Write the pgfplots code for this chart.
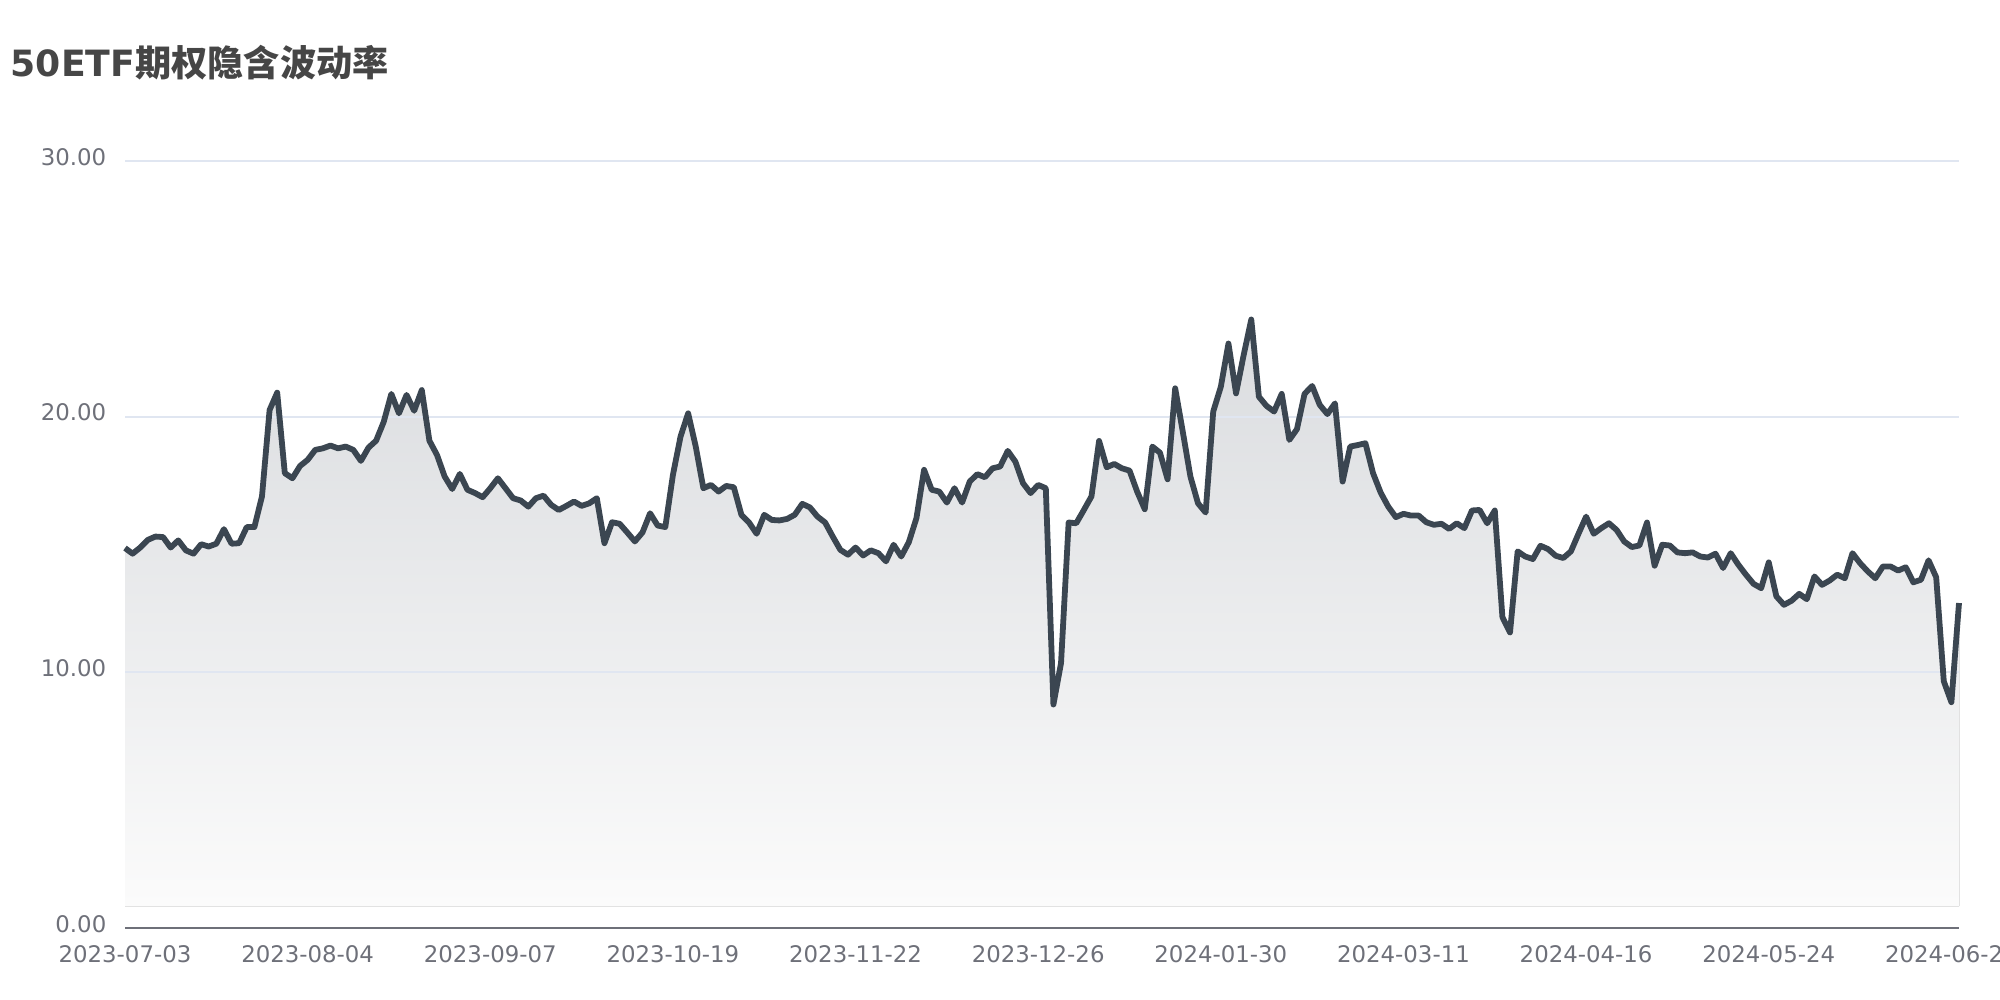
\documentclass[border=0pt]{standalone}
\usepackage{pgfplots}
\pgfplotsset{compat=1.18}
\usepackage{pgfplotstable}
\usepgfplotslibrary{fillbetween}
\usepackage{fontspec}
\setmainfont{DejaVu Sans}
\newfontfamily\cjk{Noto Sans CJK SC}
\definecolor{linecol}{HTML}{3B4651}
\definecolor{tickgray}{HTML}{6E7079}
\definecolor{gridcol}{HTML}{E0E6F1}
\definecolor{titlecol}{HTML}{464646}
\definecolor{filltop}{HTML}{DADCDF}
\definecolor{fillbot}{HTML}{FBFBFB}

\pgfplotstableread{
i v
0 14.86
1 14.64
2 14.88
3 15.18
4 15.31
5 15.29
6 14.88
7 15.16
8 14.77
9 14.64
10 15.01
11 14.92
12 15.03
13 15.60
14 15.03
15 15.05
16 15.68
17 15.68
18 16.88
19 20.26
20 20.94
21 17.79
22 17.59
23 18.07
24 18.31
25 18.70
26 18.76
27 18.87
28 18.76
29 18.83
30 18.70
31 18.27
32 18.79
33 19.06
34 19.80
35 20.89
36 20.13
37 20.85
38 20.23
39 21.04
40 19.06
41 18.50
42 17.66
43 17.17
44 17.76
45 17.14
46 17.01
47 16.85
48 17.20
49 17.59
50 17.20
51 16.81
52 16.72
53 16.48
54 16.81
55 16.91
56 16.55
57 16.35
58 16.51
59 16.68
60 16.51
61 16.61
62 16.81
63 15.05
64 15.87
65 15.81
66 15.47
67 15.12
68 15.47
69 16.22
70 15.74
71 15.68
72 17.72
73 19.22
74 20.13
75 18.83
76 17.20
77 17.33
78 17.07
79 17.29
80 17.24
81 16.16
82 15.86
83 15.42
84 16.16
85 15.96
86 15.94
87 16.00
88 16.16
89 16.59
90 16.45
91 16.09
92 15.86
93 15.31
94 14.79
95 14.60
96 14.88
97 14.57
98 14.77
99 14.66
100 14.34
101 14.99
102 14.53
103 15.09
104 16.03
105 17.92
106 17.14
107 17.07
108 16.64
109 17.20
110 16.64
111 17.46
112 17.75
113 17.63
114 17.98
115 18.05
116 18.66
117 18.24
118 17.40
119 17.01
120 17.33
121 17.20
122 8.74
123 10.36
124 15.86
125 15.83
126 16.35
127 16.88
128 19.05
129 18.02
130 18.15
131 17.98
132 17.89
133 17.07
134 16.38
135 18.83
136 18.59
137 17.55
138 21.11
139 19.41
140 17.66
141 16.61
142 16.25
143 20.20
144 21.17
145 22.86
146 20.91
147 22.41
148 23.80
149 20.78
150 20.42
151 20.20
152 20.89
153 19.09
154 19.51
155 20.89
156 21.20
157 20.46
158 20.10
159 20.52
160 17.46
161 18.83
162 18.89
163 18.96
164 17.79
165 17.03
166 16.48
167 16.07
168 16.20
169 16.13
170 16.13
171 15.87
172 15.77
173 15.81
174 15.61
175 15.83
176 15.64
177 16.33
178 16.35
179 15.83
180 16.33
181 12.16
182 11.56
183 14.73
184 14.53
185 14.43
186 14.95
187 14.82
188 14.56
189 14.47
190 14.73
191 15.42
192 16.09
193 15.42
194 15.64
195 15.83
196 15.57
197 15.12
198 14.90
199 14.96
200 15.86
201 14.17
202 14.99
203 14.96
204 14.69
205 14.66
206 14.69
207 14.53
208 14.49
209 14.64
210 14.08
211 14.66
212 14.21
213 13.82
214 13.46
215 13.29
216 14.30
217 12.97
218 12.64
219 12.80
220 13.07
221 12.86
222 13.75
223 13.42
224 13.59
225 13.82
226 13.68
227 14.66
228 14.27
229 13.95
230 13.68
231 14.14
232 14.14
233 13.98
234 14.11
235 13.52
236 13.62
237 14.38
238 13.72
239 9.65
240 8.83
241 12.71
}\ivdata

\begin{document}
\begin{tikzpicture}
\begin{axis}[
  at={(1.25cm,0.72cm)}, anchor=south west,
  scale only axis, width=18.34cm, height=7.67cm,
  xmin=0, xmax=241, ymin=0, ymax=30,
  enlargelimits=false,
  axis x line*=bottom, axis y line*=left,
  x axis line style={draw=tickgray, line width=0.8pt, -},
  y axis line style={draw=none},
  major tick length=0pt,
  ytick={0,10,20,30},
  yticklabels={0.00,10.00,20.00,30.00},
  xtick={0,24,48,72,96,120,144,168,192,216,240},
  xticklabels={2023-07-03,2023-08-04,2023-09-07,2023-10-19,2023-11-22,2023-12-26,2024-01-30,2024-03-11,2024-04-16,2024-05-24,2024-06-28},
  ticklabel style={font=\fontsize{6.5pt}{7pt}\selectfont, text=tickgray, inner sep=0pt},
  yticklabel style={anchor=east, xshift=-0.18cm, yshift=0.04cm},
  xticklabel style={anchor=north, yshift=-0.17cm},
  ymajorgrids,
  grid style={draw=gridcol, line width=0.55pt},
  clip=false,
]
\addplot[draw=none, name path=base, forget plot] coordinates {(0,0.85) (241,0.85)};
\addplot[name path=iv, draw=linecol, line width=1.65pt, line join=round, no marks] table[x=i, y=v] {\ivdata};
\addplot[top color=filltop, bottom color=fillbot, draw=none] fill between[of=iv and base, on layer=axis background];
\end{axis}
\node[anchor=base west, inner sep=0pt, text=titlecol, font=\fontsize{10.3pt}{12pt}\selectfont\bfseries] at (0.1cm,9.233cm) {50ETF{\cjk\bfseries 期权隐含波动率}};
\pgfresetboundingbox
\useasboundingbox (0,0) rectangle (20cm,10cm);
\end{tikzpicture}
\end{document}
